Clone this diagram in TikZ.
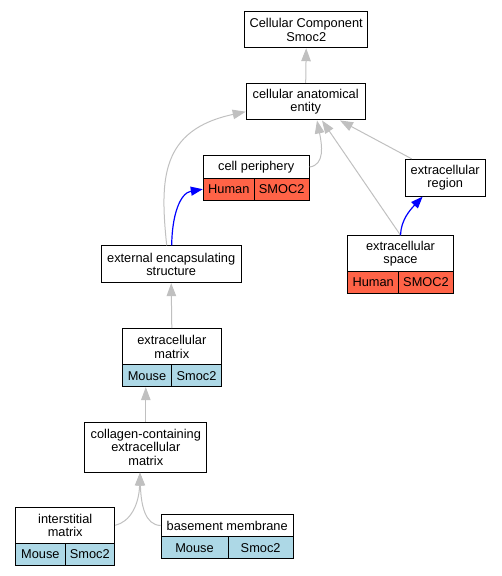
\documentclass[tikz,border=0pt]{standalone}
\usepackage{fontspec}
\setmainfont{Liberation Sans}
\usetikzlibrary{arrows.meta}
\definecolor{tomatoc}{RGB}{255,99,71}
\definecolor{lblue}{RGB}{173,216,230}
\definecolor{edgegray}{RGB}{192,192,192}
\newcommand{\gvfont}{\fontsize{12.8}{13.6}\selectfont}
\tikzset{
  box/.style={draw=black, line width=1pt, fill=white, inner sep=0pt, align=center, font=\gvfont},
  hcell/.style={box, fill=tomatoc},
  mcell/.style={box, fill=lblue},
  gedge/.style={draw=edgegray, line width=1pt, -{Triangle[length=13pt,width=9.5pt]}, edgegray},
  bedge/.style={draw=blue, line width=1.2pt, -{Triangle[length=12pt,width=9pt]}, blue},
}
\begin{document}
\begin{tikzpicture}[x=1pt,y=-1pt]
\useasboundingbox (0,0) rectangle (501,576);
% nodes
\node[box, minimum width=123pt, minimum height=36pt] (ccs) at (306.2,29.7) {Cellular Component\\Smoc2};
\node[box, minimum width=119pt, minimum height=36.5pt] (cae) at (305.7,101.7) {cellular anatomical\\entity};
\node[box, minimum width=105.7pt, minimum height=22.6pt] (cp) at (256.2,167) {cell periphery};
\node[hcell, minimum width=51pt, minimum height=21.7pt] (cph) at (228.8,189.2) {Human};
\node[hcell, minimum width=54.7pt, minimum height=21.7pt] (cps) at (281.65,189.2) {SMOC2};
\node[box, minimum width=80.3pt, minimum height=36.7pt] (er) at (445.2,177.7) {extracellular\\region};
\node[box, minimum width=105.6pt, minimum height=36pt] (es) at (400.5,253.7) {extracellular\\space};
\node[hcell, minimum width=51pt, minimum height=21.6pt] (esh) at (373.2,282.5) {Human};
\node[hcell, minimum width=54.6pt, minimum height=21.6pt] (ess) at (426,282.5) {SMOC2};
\node[box, minimum width=140.3pt, minimum height=36.7pt] (eenc) at (171.2,264.3) {external encapsulating\\structure};
\node[box, minimum width=99pt, minimum height=36.3pt] (ecm) at (171.8,346.8) {extracellular\\matrix};
\node[mcell, minimum width=49.4pt, minimum height=21.7pt] (ecmm) at (147,375.8) {Mouse};
\node[mcell, minimum width=49.6pt, minimum height=21.7pt] (ecms) at (196.5,375.8) {Smoc2};
\node[box, minimum width=121.7pt, minimum height=49.7pt] (col) at (145.8,447.2) {collagen-containing\\extracellular\\matrix};
\node[box, minimum width=99pt, minimum height=36pt] (im) at (65.2,525.3) {interstitial\\matrix};
\node[mcell, minimum width=49.3pt, minimum height=21.7pt] (imm) at (40.35,554.2) {Mouse};
\node[mcell, minimum width=49.7pt, minimum height=21.7pt] (ims) at (89.85,554.2) {Smoc2};
\node[box, minimum width=132.3pt, minimum height=22.4pt] (bm) at (227.2,525.5) {basement membrane};
\node[mcell, minimum width=67pt, minimum height=22.3pt] (bmm) at (194.5,547.8) {Mouse};
\node[mcell, minimum width=65.3pt, minimum height=22.3pt] (bms) at (260.65,547.8) {Smoc2};
% edges
\draw[gedge] (cae.north) -- (ccs.south);
\draw[gedge] ([xshift=-4.5pt]eenc.north) .. controls (160,180) and (160,130) .. ([yshift=-10pt]cae.west);
\draw[bedge] ([xshift=0.5pt]eenc.north) .. controls (172,215) and (180,193) .. (cph.west);
\draw[gedge] (cp.east) .. controls (325,165) and (322,145) .. ([xshift=11.3pt]cae.south);
\draw[gedge] (es.north) -- ([xshift=16.3pt]cae.south);
\draw[gedge] ([xshift=-33.5pt]er.north) -- ([xshift=34.3pt]cae.south);
\draw[bedge] (es.north) .. controls (401,220) and (410,210) .. ([xshift=-22.5pt]er.south);
\draw[gedge] (ecm.north) -- (eenc.south);
\draw[gedge] (col.north) -- (col.north |- ecmm.south);
\draw[gedge] (im.east) .. controls (130,522) and (139,505) .. ([xshift=-5.8pt]col.south);
\draw[gedge] (bm.west) .. controls (145,525) and (141,505) .. ([xshift=-5.8pt]col.south);
\end{tikzpicture}
\end{document}
